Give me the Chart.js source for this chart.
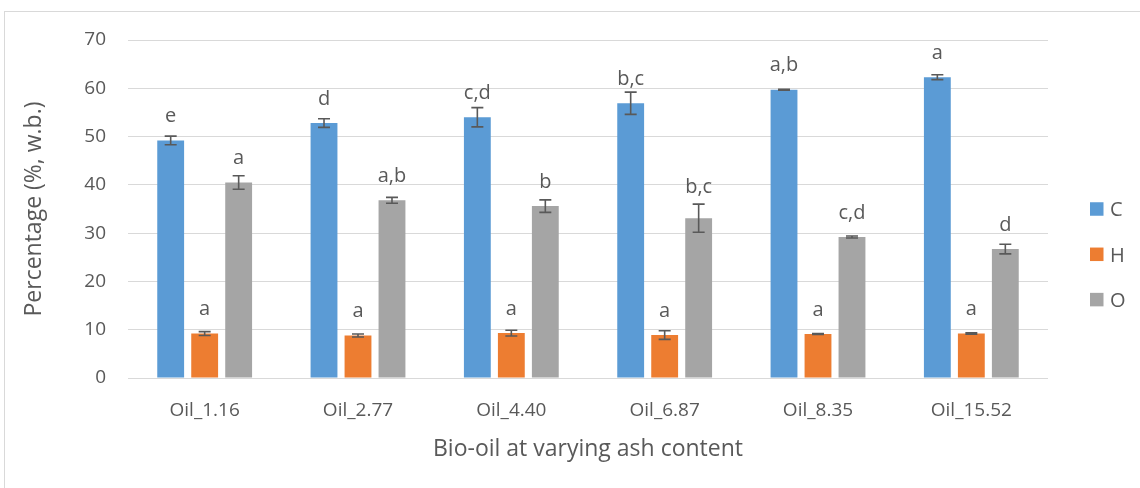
<!DOCTYPE html>
<html>
<head>
<meta charset="utf-8">
<script src="https://cdn.jsdelivr.net/npm/chart.js@4.4.1/dist/chart.umd.min.js"></script>
<style>
  html, body { margin: 0; padding: 0; background: #fff; overflow: hidden; }
  #wrap { position: relative; width: 1140px; height: 488px; }
  #frame { position: absolute; left: 4px; top: 11px; width: 1200px; height: 600px;
           border: 1px solid #D9D9D9; box-sizing: border-box; }
  canvas { position: absolute; left: 0; top: 0; }
</style>
</head>
<body>
<div id="wrap">
  <div id="frame"></div>
  <canvas id="chart" width="1140" height="488"></canvas>
</div>
<script>
// Elemental composition of bio-oil samples (mean, standard deviation, significance letters)
const categories = ['Oil_1.16', 'Oil_2.77', 'Oil_4.40', 'Oil_6.87', 'Oil_8.35', 'Oil_15.52'];

const carbon        = [49.2, 52.8, 54.0, 56.9, 59.7, 62.3];
const carbonErr     = [0.9, 0.9, 2.0, 2.3, 0.1, 0.5];
const carbonLetters = ['e', 'd', 'c,d', 'b,c', 'a,b', 'a'];

const hydrogen        = [9.2, 8.8, 9.3, 8.9, 9.1, 9.2];
const hydrogenErr     = [0.4, 0.3, 0.6, 0.9, 0.1, 0.15];
const hydrogenLetters = ['a', 'a', 'a', 'a', 'a', 'a'];

const oxygen        = [40.5, 36.8, 35.6, 33.1, 29.2, 26.7];
const oxygenErr     = [1.4, 0.6, 1.3, 2.9, 0.2, 1.0];
const oxygenLetters = ['a', 'a,b', 'b', 'b,c', 'c,d', 'd'];

const seriesNames = ['C', 'H', 'O'];
const yMin = 0, yMax = 70, yStep = 10;

const FONT = "'Open Sans', 'Liberation Sans', sans-serif";
const TEXT = '#595959';
const GRID = '#D9D9D9';

const errors  = [carbonErr, hydrogenErr, oxygenErr];
const letters = [carbonLetters, hydrogenLetters, oxygenLetters];

// Error bars with caps and significance letters above each bar
const annotatePlugin = {
  id: 'annotate',
  afterDatasetsDraw(chart) {
    const ctx = chart.ctx;
    const y = chart.scales.y;
    ctx.save();
    chart.data.datasets.forEach((ds, di) => {
      const meta = chart.getDatasetMeta(di);
      meta.data.forEach((bar, i) => {
        const v = ds.data[i];
        const e = errors[di][i];
        const top = y.getPixelForValue(v + e);
        const bot = y.getPixelForValue(v - e);
        const cap = 6;
        ctx.strokeStyle = '#595959';
        ctx.lineWidth = 1.6;
        ctx.beginPath();
        ctx.moveTo(bar.x, top); ctx.lineTo(bar.x, bot);
        ctx.moveTo(bar.x - cap, top); ctx.lineTo(bar.x + cap, top);
        ctx.moveTo(bar.x - cap, bot); ctx.lineTo(bar.x + cap, bot);
        ctx.stroke();

        // letter baseline: fixed gap above the bar, lifted when the error bar reaches it
        let base = bar.y - 18.5;
        if (base > top - 6) base = top - 11.5;
        ctx.fillStyle = TEXT;
        ctx.font = '20px ' + FONT;
        ctx.textAlign = 'center';
        ctx.textBaseline = 'alphabetic';
        ctx.fillText(letters[di][i], bar.x, base);
      });
    });
    ctx.restore();
  },
  afterDraw(chart) {
    // legend on the right
    const ctx = chart.ctx;
    ctx.save();
    const x0 = 1090, yc0 = 209, gap = 45.3, sz = 13.5;
    chart.data.datasets.forEach((ds, di) => {
      const yc = yc0 + di * gap;
      ctx.fillStyle = ds.backgroundColor;
      ctx.fillRect(x0, yc - sz / 2, sz, sz);
      ctx.fillStyle = TEXT;
      ctx.font = '20px ' + FONT;
      ctx.textAlign = 'left';
      ctx.textBaseline = 'alphabetic';
      ctx.fillText(ds.label, x0 + 20, yc + 7.3);
    });
    ctx.restore();
  }
};

const colors = ['#5B9BD5', '#ED7D31', '#A5A5A5'];
const values = [carbon, hydrogen, oxygen];

new Chart(document.getElementById('chart'), {
  type: 'bar',
  data: {
    labels: categories,
    datasets: values.map((d, i) => ({
      label: seriesNames[i],
      data: d,
      backgroundColor: colors[i],
      borderWidth: 0,
      categoryPercentage: 0.665,
      barPercentage: 0.79
    }))
  },
  options: {
    responsive: false,
    animation: false,
    devicePixelRatio: 1,
    layout: { padding: { left: 0, right: 92, top: 40, bottom: 0 } },
    plugins: { legend: { display: false }, tooltip: { enabled: false } },
    scales: {
      x: {
        grid: { display: false, drawTicks: false },
        border: { display: false },
        ticks: { color: TEXT, font: { family: FONT, size: 19 }, padding: 21 },
        title: { display: true, text: 'Bio-oil at varying ash content', color: TEXT,
                 font: { family: FONT, size: 23 }, padding: { top: 4, bottom: 25 } },
        afterFit(s) { s.height = 110; }
      },
      y: {
        min: yMin, max: yMax,
        grid: { color: GRID, lineWidth: 1, drawTicks: false },
        border: { display: false },
        ticks: { stepSize: yStep, color: TEXT, font: { family: FONT, size: 19 }, padding: 22 },
        title: { display: true, text: 'Percentage (%, w.b.)', color: TEXT,
                 font: { family: FONT, size: 23 }, padding: { top: 21, bottom: 4 } },
        afterFit(s) { s.width = 128; }
      }
    }
  },
  plugins: [annotatePlugin]
});
</script>
</body>
</html>
